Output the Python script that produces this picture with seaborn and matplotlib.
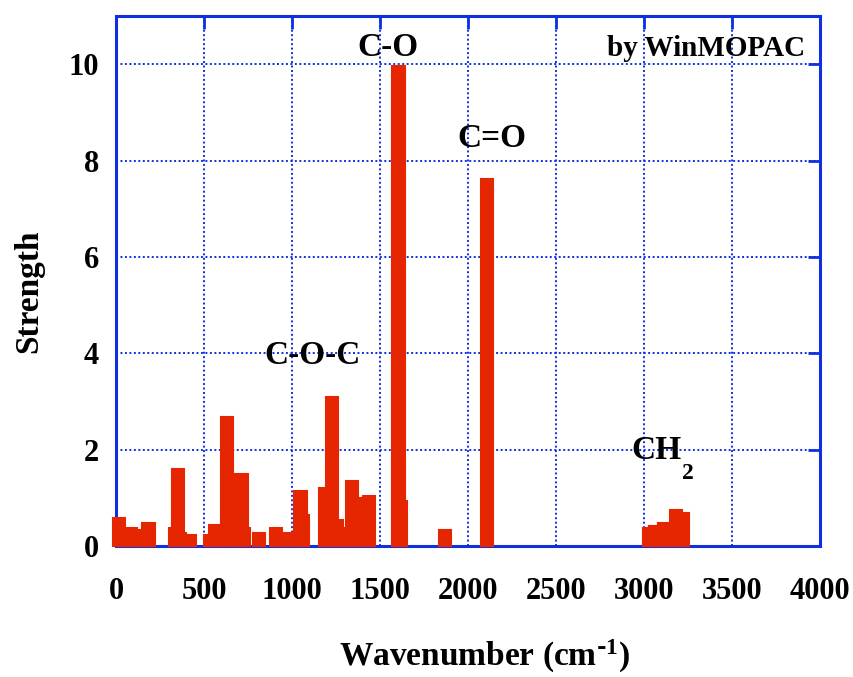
import numpy as np
import pandas as pd
import matplotlib
matplotlib.use("Agg")
import matplotlib.pyplot as plt
import seaborn as sns

# ---- data ----
wavenumber = [16, 86, 156, 184, 338, 351, 365, 419, 537, 564, 630, 713, 726,
              811, 910, 973, 1048, 1061, 1189, 1228, 1257, 1272, 1342, 1375,
              1439, 1605, 1618, 1870, 2107, 3031, 3065, 3080, 3112, 3183, 3223]
strength = [0.59, 0.38, 0.33, 0.48, 0.38, 1.60, 0.28, 0.23, 0.23, 0.43, 2.67,
            1.50, 0.38, 0.28, 0.38, 0.28, 1.14, 0.64, 1.20, 3.09, 0.53, 0.38,
            1.35, 0.99, 1.04, 9.97, 0.94, 0.33, 7.62, 0.37, 0.42, 0.42, 0.47,
            0.74, 0.69]
x_ticks = [0, 500, 1000, 1500, 2000, 2500, 3000, 3500, 4000]
y_ticks = [0, 2, 4, 6, 8, 10]
ann_labels = ["C-O", "C=O", "C-O-C", "CH"]
ann_x = [1545, 2136, 1116, 3072]
ann_y = [10.34, 8.46, 3.96, 1.99]
sub_label = "2"
sub_x = 3250
sub_y = 1.50
credit = "by WinMOPAC"

bar_w = 70  # cm-1, visual bar width
RED = "#e62600"
BLUE = "#1030e0"

sns.set_style("white")
plt.rcParams["font.family"] = ["Liberation Serif", "DejaVu Serif"]
plt.rcParams["font.weight"] = "bold"
plt.rcParams["mathtext.default"] = "regular"
plt.rcParams["text.color"] = "black"
plt.rcParams["axes.labelcolor"] = "black"
plt.rcParams["xtick.labelcolor"] = "black"
plt.rcParams["ytick.labelcolor"] = "black"

df = pd.DataFrame({"wavenumber": wavenumber, "strength": strength})

fig = plt.figure(figsize=(8.54, 6.77), dpi=100)
ax = fig.add_axes([116 / 854, 1 - 546 / 677, (820 - 116) / 854, (546 - 16) / 677])

min_gap = np.min(np.diff(np.unique(df["wavenumber"])))
sns.barplot(data=df, x="wavenumber", y="strength", native_scale=True,
            width=bar_w / min_gap, color=RED, saturation=1, errorbar=None,
            edgecolor=RED, linewidth=1.5, ax=ax, zorder=3)
for p in ax.patches:
    p.set_clip_on(False)

ax.set_xlim(0, 4000)
ax.set_ylim(0, 11)
ax.set_xticks(x_ticks)
ax.set_yticks(y_ticks)
ax.set_xticklabels([str(t) for t in x_ticks])
ax.set_yticklabels([str(t) for t in y_ticks])

ax.grid(True, color=BLUE, linestyle=(0, (1, 1.3)), linewidth=1.4, zorder=0)
ax.set_axisbelow(True)
for s in ax.spines.values():
    s.set_color(BLUE)
    s.set_linewidth(2.2)
    s.set_zorder(2.5)

ax.tick_params(axis="both", which="major", direction="in", length=9, width=2,
               color=BLUE, top=True, right=True, labelsize=22,
               labelcolor="black")
ax.tick_params(axis="x", pad=22)
ax.tick_params(axis="y", pad=12)
for lbl in ax.get_xticklabels() + ax.get_yticklabels():
    lbl.set_fontweight("bold")

ax.set_xlabel(r"Wavenumber (cm$^{\text{-}1}$)", fontsize=24, fontweight="bold",
              labelpad=23, color="black", x=0.523)
ax.set_ylabel("Strength", fontsize=24, fontweight="bold", labelpad=18,
              color="black", y=0.481)

for t, xv, yv in zip(ann_labels, ann_x, ann_y):
    ax.text(xv, yv, t, ha="center", va="center", fontsize=24,
            fontweight="bold", color="black", zorder=5)
ax.text(sub_x, sub_y, sub_label, ha="center", va="center", fontsize=17,
        fontweight="bold", color="black", zorder=5)
ax.text(3915, 10.32, credit, ha="right", va="center", fontsize=21,
        fontweight="bold", color="black", zorder=5)

fig.savefig("out.png", dpi=100, facecolor="white")
